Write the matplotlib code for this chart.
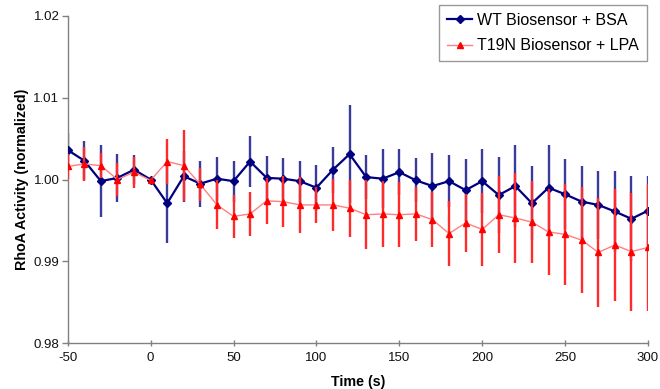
import matplotlib
matplotlib.use("Agg")
import matplotlib.pyplot as plt
import numpy as np

plt.rcParams['font.family'] = ['Liberation Sans', 'DejaVu Sans']
plt.rcParams['axes.unicode_minus'] = False

time = [-50, -40, -30, -20, -10, 0, 10, 20, 30, 40, 50, 60, 70, 80, 90, 100,
        110, 120, 130, 140, 150, 160, 170, 180, 190, 200, 210, 220, 230, 240,
        250, 260, 270, 280, 290, 300]

wt_bsa = [1.0036, 1.0023, 0.9998, 1.0002, 1.0012, 1.0000, 0.9971, 1.0004, 0.9995,
          1.0001, 0.9998, 1.0022, 1.0002, 1.0001, 0.9998, 0.9990, 1.0012, 1.0031,
          1.0003, 1.0001, 1.0009, 0.9999, 0.9992, 0.9998, 0.9987, 0.9998, 0.9981,
          0.9992, 0.9971, 0.9990, 0.9982, 0.9973, 0.9969, 0.9961, 0.9952, 0.9962]
wt_err = [0.0021, 0.0024, 0.0044, 0.0029, 0.0018, 0.0001, 0.0049, 0.0031, 0.0028,
          0.0027, 0.0025, 0.0031, 0.0027, 0.0025, 0.0025, 0.0028, 0.0028, 0.0060,
          0.0027, 0.0036, 0.0028, 0.0027, 0.0041, 0.0032, 0.0038, 0.0039, 0.0046,
          0.0050, 0.0045, 0.0052, 0.0043, 0.0044, 0.0042, 0.0050, 0.0052, 0.0042]

t19n_lpa = [1.0016, 1.0019, 1.0017, 1.0000, 1.0009, 0.9999, 1.0022, 1.0017, 0.9994,
            0.9969, 0.9955, 0.9958, 0.9974, 0.9973, 0.9969, 0.9969, 0.9969, 0.9965,
            0.9957, 0.9958, 0.9957, 0.9958, 0.9951, 0.9934, 0.9947, 0.9939, 0.9957,
            0.9953, 0.9948, 0.9936, 0.9933, 0.9926, 0.9911, 0.9920, 0.9912, 0.9917]
t19n_err = [0.0015, 0.0021, 0.0015, 0.0020, 0.0019, 0.0001, 0.0028, 0.0043, 0.0020,
            0.0030, 0.0026, 0.0027, 0.0028, 0.0031, 0.0034, 0.0022, 0.0032, 0.0035,
            0.0042, 0.0040, 0.0040, 0.0033, 0.0034, 0.0040, 0.0035, 0.0044, 0.0047,
            0.0055, 0.0050, 0.0052, 0.0062, 0.0065, 0.0067, 0.0068, 0.0072, 0.0078]

series_labels = ["WT Biosensor + BSA", "T19N Biosensor + LPA"]
xticks = [-50, 0, 50, 100, 150, 200, 250, 300]
yticks = [0.98, 0.99, 1.00, 1.01, 1.02]
ytick_labels = ["0.98", "0.99", "1.00", "1.01", "1.02"]

fig = plt.figure(figsize=(6.6, 3.89), dpi=100)
ax = fig.add_axes([0.1026, 0.1175, 0.8792, 0.842])

navy = '#000080'
red = '#FF0000'

ax.errorbar(time, wt_bsa, yerr=wt_err, fmt='none', ecolor='#3A3A9A',
            elinewidth=1.7, capsize=0, zorder=2)
l1, = ax.plot(time, wt_bsa, color=navy, lw=1.6, marker='D', ms=4.5,
              mfc=navy, mec=navy, zorder=3, label=series_labels[0])
ax.errorbar(time, t19n_lpa, yerr=t19n_err, fmt='none', ecolor='#FF2A2A',
            elinewidth=1.7, capsize=0, zorder=4)
l2, = ax.plot(time, t19n_lpa, color='#FF8080', lw=1.0, marker='^', ms=4.0,
              mfc=red, mec=red, zorder=5, label=series_labels[1])

ax.set_xlim(-50, 300)
ax.set_ylim(0.98, 1.02)
ax.set_xticks(xticks)
ax.set_yticks(yticks)
ax.set_yticklabels(ytick_labels)

for s in ['top', 'right']:
    ax.spines[s].set_visible(False)
for s in ['left', 'bottom']:
    ax.spines[s].set_color('#808080')
    ax.spines[s].set_linewidth(1.0)
ax.tick_params(axis='both', colors='#808080', labelcolor='#111111',
               labelsize=9.5, length=4, width=1.0)
ax.tick_params(axis='x', direction='inout', length=5, pad=4)
ax.tick_params(axis='y', direction='out', pad=2)

ax.set_xlabel("Time (s)", fontsize=10.3, fontweight='bold', labelpad=8)
ax.set_ylabel("RhoA Activity (normalized)", fontsize=10.3, fontweight='bold', labelpad=3)

leg = fig.legend(handles=[l1, l2], loc='upper right',
                 bbox_to_anchor=(647/660, 1 - 5/389), fontsize=11.5,
                 frameon=True, fancybox=False, edgecolor='#808080',
                 handlelength=1.6, handletextpad=0.3, borderpad=0.5,
                 labelspacing=0.65, borderaxespad=0)
leg.get_frame().set_linewidth(1.0)

fig.savefig("out.png", dpi=100)
